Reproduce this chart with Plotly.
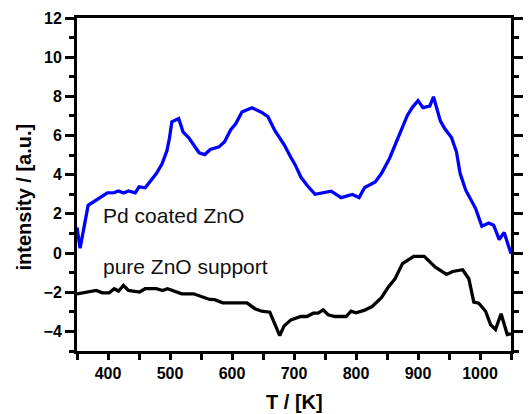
import plotly.graph_objects as go

# Pd coated ZnO (blue)
T_pd = [350, 355, 368, 386, 399, 410, 417, 425, 433, 444, 450, 460, 469, 478, 487, 495, 499, 503,
        514, 521, 530, 538, 547, 556, 565, 579, 588, 598, 606, 616, 632, 648, 658, 669, 684, 695,
        702, 711, 721, 734, 747, 760, 776, 794, 805, 814, 831, 841, 854, 868, 883, 891, 900, 908,
        919, 925, 936, 943, 954, 962, 968, 977, 993, 1003, 1014, 1022, 1031, 1039, 1050]
I_pd = [1.3, 0.25, 2.44, 2.78, 3.07, 3.09, 3.17, 3.07, 3.17, 3.07, 3.38, 3.33, 3.72, 4.06, 4.54, 5.22, 5.85, 6.7,
        6.87, 6.19, 5.9, 5.51, 5.12, 5.03, 5.29, 5.42, 5.68, 6.3, 6.6, 7.2, 7.42, 7.18, 6.96, 6.26, 5.54, 4.88,
        4.5, 3.88, 3.46, 3.0, 3.08, 3.16, 2.83, 2.99, 2.83, 3.35, 3.63, 4.06, 4.83, 5.93, 7.04, 7.44, 7.78, 7.42,
        7.5, 7.98, 6.75, 6.36, 5.9, 5.17, 4.06, 3.21, 2.27, 1.37, 1.53, 1.42, 0.69, 1.05, -0.03]

# pure ZnO support (black)
T_zno = [350, 381, 391, 402, 410, 417, 425, 433, 451, 460, 478, 488, 496, 519, 538, 554, 564, 572, 585,
         624, 637, 648, 661, 677, 684, 695, 711, 721, 731, 739, 747, 755, 766, 784, 792, 800, 813, 826,
         841, 852, 863, 875, 883, 893, 910, 928, 946, 956, 972, 982, 990, 998, 1009, 1017, 1025, 1034,
         1044, 1050]
I_zno = [-2.08, -1.91, -2.03, -2.03, -1.82, -1.94, -1.65, -1.91, -1.99, -1.82, -1.82, -1.91, -1.82, -2.08,
         -2.08, -2.28, -2.37, -2.38, -2.54, -2.54, -2.84, -2.97, -3.02, -4.21, -3.72, -3.41, -3.24, -3.24,
         -3.07, -3.07, -2.9, -3.15, -3.24, -3.24, -2.97, -3.05, -2.93, -2.73, -2.28, -1.74, -1.31, -0.54,
         -0.37, -0.17, -0.17, -0.72, -1.09, -0.94, -0.85, -1.31, -2.5, -2.56, -2.97, -3.65, -3.9, -3.1,
         -4.16, -4.12]

labels = ["Pd coated ZnO", "pure ZnO support"]
label_x = [388, 388]
label_y = [1.93, -0.68]

FONT = "Liberation Sans, Arial, sans-serif"

fig = go.Figure()
fig.add_trace(go.Scatter(x=T_pd, y=I_pd, mode="lines", line=dict(color="#0000FF", width=3.3),
                         showlegend=False))
fig.add_trace(go.Scatter(x=T_zno, y=I_zno, mode="lines", line=dict(color="#000000", width=3.3),
                         showlegend=False))

for t, lx, ly in zip(labels, label_x, label_y):
    fig.add_annotation(x=lx, y=ly, xref="x", yref="y", text=t, showarrow=False,
                       xanchor="left", yanchor="middle",
                       font=dict(family=FONT, size=21, color="#111111"))

fig.add_annotation(x=0.5, y=-0.153, xref="paper", yref="paper", text="T / [K]", showarrow=False,
                   xanchor="center", yanchor="middle",
                   font=dict(family=FONT, size=20, color="#000000", weight="bold"))
fig.add_annotation(x=-0.121, y=0.4625, xref="paper", yref="paper", text="intensity / [a.u.]",
                   showarrow=False, textangle=-90, xanchor="center", yanchor="middle",
                   font=dict(family=FONT, size=20, color="#000000", weight="bold"))

fig.update_layout(
    width=529, height=414,
    margin=dict(l=77, r=6, t=18, b=63),
    paper_bgcolor="white", plot_bgcolor="white",
    xaxis=dict(range=[350, 1050], dtick=100, tick0=0, showgrid=False, zeroline=False,
               showline=True, linecolor="black", linewidth=3, mirror=True,
               ticks="outside", ticklen=6, tickwidth=2.5, tickcolor="black",
               minor=dict(dtick=50, ticks="outside", ticklen=6, tickwidth=2.5, tickcolor="black"),
               tickfont=dict(family=FONT, size=16, color="black", weight="bold")),
    yaxis=dict(range=[-5, 12], dtick=2, tick0=0, showgrid=False, zeroline=False,
               showline=True, linecolor="black", linewidth=3, mirror="allticks",
               ticks="outside", ticklen=9, tickwidth=2.5, tickcolor="black",
               minor=dict(dtick=1, ticks="outside", ticklen=5, tickwidth=2.5, tickcolor="black"),
               tickfont=dict(family=FONT, size=16, color="black", weight="bold")),
)

fig.write_html("out.html")
